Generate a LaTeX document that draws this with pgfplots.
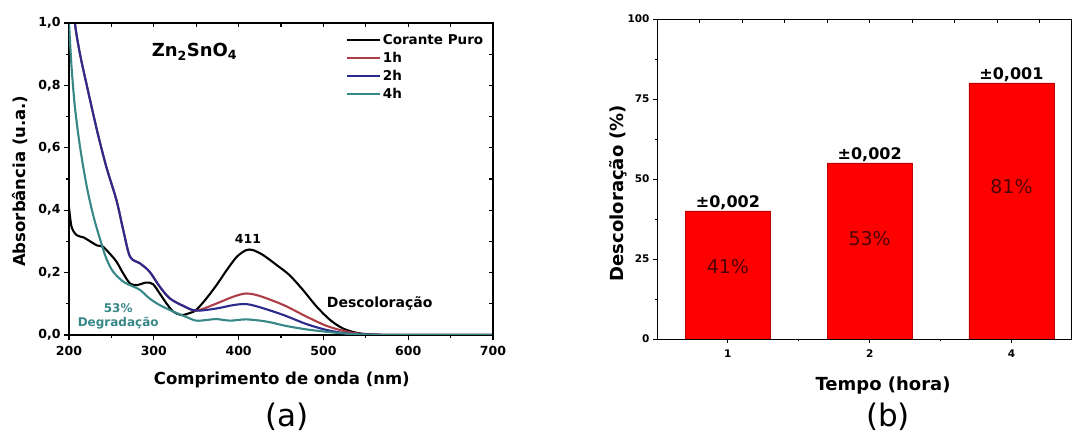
\documentclass[border=0pt]{standalone}
\usepackage{pgfplots}
\pgfplotsset{compat=1.18}
\usepackage{fontspec}
\setmainfont{DejaVu Sans}
\pgfkeys{/pgf/number format/assume math mode=true}
\definecolor{cred}{rgb}{0.68,0.24,0.28}
\definecolor{cblue}{rgb}{0.17,0.17,0.55}
\definecolor{cteal}{rgb}{0.22,0.53,0.53}
\definecolor{barred}{rgb}{1,0,0}
\definecolor{bartxt}{rgb}{0.3,0.02,0.02}
\begin{document}
\begin{tikzpicture}
\useasboundingbox (0pt,0pt) rectangle (1072pt,435pt);
% ---------------- panel (a) ----------------
\begin{axis}[
  at={(69pt,100pt)}, anchor=south west,
  scale only axis, width=424pt, height=312pt,
  xmin=200, xmax=700, ymin=0, ymax=1,
  xtick={200,300,400,500,600,700}, minor xtick={250,350,450,550,650},
  ytick={0,0.2,0.4,0.6,0.8,1.0}, minor ytick={0.1,0.3,0.5,0.7,0.9},
  tick align=outside, tick pos=left,
  major tick length=5pt, minor tick length=3pt,
  every tick/.style={black, line width=1.1pt},
  axis line style={line width=1.2pt},
  ticklabel style={font=\fontsize{12.5}{14}\selectfont\bfseries},
  yticklabel style={/pgf/number format/.cd,fixed,fixed zerofill,precision=1,use comma},
  xticklabel style={yshift=-3pt,/pgf/number format/.cd,1000 sep={}},
  xlabel={Comprimento de onda (nm)},
  ylabel={Absorbância (u.a.)},
  label style={font=\fontsize{16.5}{18}\selectfont\bfseries},
  xlabel style={at={(axis description cs:0.502,-0.144)}, anchor=center},
  ylabel style={at={(axis description cs:-0.116,0.493)}, anchor=center},
  legend style={draw=none, fill=none, at={(axis description cs:0.65,0.975)}, anchor=north west,
    font=\fontsize{13.5}{15}\selectfont\bfseries, row sep=2.5pt, inner sep=1pt},
  legend cell align=left,
  legend image code/.code={\draw[#1] (0pt,0pt) -- (33pt,0pt);},
  clip=true,
]
\addplot[black, line width=2.1pt, smooth] coordinates {
(200,0.41) (203,0.347) (209,0.32) (217,0.313) (225,0.30) (233,0.287) (240,0.283)
(248,0.261) (256,0.235) (264,0.197) (272,0.165) (280,0.16) (291,0.168) (299,0.163)
(307,0.133) (315,0.101) (323,0.075) (333,0.064) (343,0.071) (350,0.08) (362,0.117)
(374,0.16) (386,0.208) (398,0.251) (409,0.272) (417,0.272) (429,0.256) (445,0.224)
(460,0.192) (476,0.144) (492,0.091) (508,0.048) (523,0.021) (539,0.007) (555,0.002)
(580,0.0) (620,0.0) (660,0.0) (700,0.0)};
\addlegendentry{Corante Puro}
\addplot[cred, line width=2.1pt, smooth] coordinates {
(200,1.30) (203,1.15) (207,1.0) (213,0.90) (221,0.80) (233,0.656) (244,0.539)
(256,0.432) (264,0.336) (272,0.251) (284,0.229) (295,0.203) (307,0.155) (319,0.117)
(335,0.093) (350,0.078) (374,0.101) (394,0.123) (409,0.133) (425,0.125) (453,0.096)
(480,0.059) (504,0.029) (527,0.011) (547,0.003) (580,0.0) (640,0.0) (700,0.0)};
\addlegendentry{1h}
\addplot[cblue, line width=2.1pt, smooth] coordinates {
(200,1.30) (203,1.15) (207,1.0) (213,0.90) (221,0.80) (233,0.656) (244,0.539)
(256,0.432) (264,0.336) (272,0.251) (284,0.229) (295,0.203) (307,0.155) (319,0.117)
(335,0.093) (350,0.078) (374,0.085) (394,0.096) (409,0.099) (425,0.089) (453,0.064)
(480,0.035) (504,0.016) (527,0.005) (547,0.002) (580,0.0) (640,0.0) (700,0.0)};
\addlegendentry{2h}
\addplot[cteal, line width=2.1pt, smooth] coordinates {
(200,1.0) (203,0.86) (207,0.73) (213,0.603) (221,0.475) (229,0.379) (237,0.304)
(244,0.245) (252,0.203) (264,0.171) (276,0.155) (284,0.144) (295,0.117) (307,0.096)
(323,0.075) (339,0.057) (350,0.046) (362,0.048) (374,0.051) (390,0.046) (409,0.05)
(433,0.043) (456,0.029) (480,0.018) (508,0.009) (535,0.003) (570,0.0) (640,0.0) (700,0.0)};
\addlegendentry{4h}
\node[font=\fontsize{18}{20}\selectfont\bfseries] at (axis cs:348,0.908) {Zn\textsubscript{2}SnO\textsubscript{4}};
\node[font=\fontsize{12.5}{14}\selectfont\bfseries] at (axis cs:411,0.307) {411};
\node[font=\fontsize{14}{16}\selectfont\bfseries, anchor=west] at (axis cs:500,0.102) {Descoloração};
\node[font=\fontsize{12}{14}\selectfont\bfseries, text=cteal] at (axis cs:258,0.086) {53\%};
\node[font=\fontsize{12}{14}\selectfont\bfseries, text=cteal] at (axis cs:258,0.039) {Degradação};
\end{axis}
\begin{axis}[
  at={(69pt,100pt)}, anchor=south west,
  scale only axis, width=424pt, height=312pt,
  xmin=200, xmax=700, ymin=0, ymax=1,
  axis x line*=top, axis y line*=right,
  xtick={250,300,350,400,450,500,550,600,650}, ytick={0.1,0.2,0.3,0.4,0.5,0.6,0.7,0.8,0.9},
  xticklabels={}, yticklabels={},
  tick align=inside, major tick length=4pt,
  every tick/.style={black, line width=1.1pt},
  axis line style={line width=1.2pt},
]
\end{axis}
% ---------------- panel (b) ----------------
\begin{axis}[
  at={(657pt,96pt)}, anchor=south west,
  scale only axis, width=414pt, height=320pt,
  xmin=0.5, xmax=3.42, ymin=0, ymax=100,
  xtick={1,2,3}, xticklabels={1,2,4}, minor xtick={1.5,2.5},
  ytick={0,25,50,75,100}, minor ytick={12.5,37.5,62.5,87.5},
  tick align=outside, tick pos=left,
  major tick length=4pt, minor tick length=2.5pt,
  every tick/.style={black, line width=0.9pt},
  axis line style={line width=0.9pt},
  ticklabel style={font=\fontsize{10.5}{12}\selectfont\bfseries},
  xticklabel style={yshift=-3pt},
  xlabel={Tempo (hora)},
  ylabel={Descoloração (\%)},
  label style={font=\fontsize{18}{20}\selectfont\bfseries},
  xlabel style={at={(axis description cs:0.546,-0.147)}, anchor=center},
  ylabel style={at={(axis description cs:-0.094,0.456)}, anchor=center},
  ybar, bar width=0.6,
]
\addplot[fill=barred, draw=barred!75!black, line width=0.6pt] coordinates {(1,40) (2,55) (3,80)};
\node[font=\fontsize{16}{18}\selectfont\bfseries, anchor=south, inner sep=1pt] at (axis cs:1,40) {±0,002};
\node[font=\fontsize{16}{18}\selectfont\bfseries, anchor=south, inner sep=1pt] at (axis cs:2,55) {±0,002};
\node[font=\fontsize{16}{18}\selectfont\bfseries, anchor=south, inner sep=1pt] at (axis cs:3,80) {±0,001};
\node[font=\fontsize{19}{21}\selectfont, text=bartxt] at (axis cs:1,22.5) {41\%};
\node[font=\fontsize{19}{21}\selectfont, text=bartxt] at (axis cs:2,31.5) {53\%};
\node[font=\fontsize{19}{21}\selectfont, text=bartxt] at (axis cs:3,47.5) {81\%};
\end{axis}
\begin{axis}[
  at={(657pt,96pt)}, anchor=south west,
  scale only axis, width=414pt, height=320pt,
  xmin=0.5, xmax=3.42, ymin=0, ymax=100,
  axis x line*=top, axis y line*=right,
  xtick={0.8,1.1,1.4,1.7,2.0,2.3,2.6,2.9,3.2}, ytick=\empty,
  xticklabels={},
  tick align=inside, major tick length=4pt,
  every tick/.style={black, line width=0.9pt},
  axis line style={line width=0.9pt},
]
\end{axis}
\node[font=\fontsize{31}{33}\selectfont] at (287pt,18.5pt) {(a)};
\node[font=\fontsize{31}{33}\selectfont] at (888pt,18.5pt) {(b)};
\end{tikzpicture}
\end{document}
